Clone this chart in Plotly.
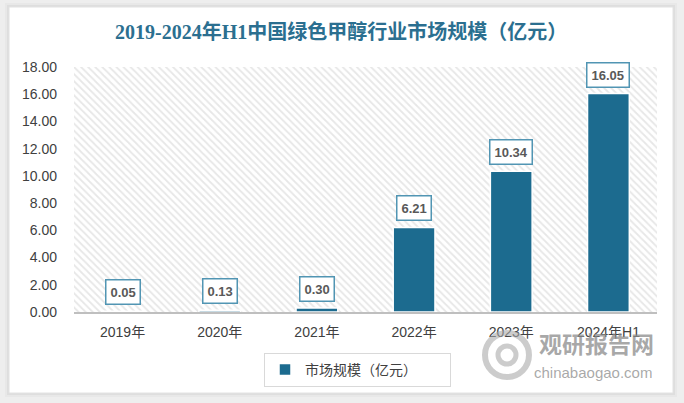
import plotly.graph_objects as go

categories = ["2019年", "2020年", "2021年", "2022年", "2023年", "2024年H1"]
values = [0.05, 0.13, 0.30, 6.21, 10.34, 16.05]
y_ticks = [0, 2, 4, 6, 8, 10, 12, 14, 16, 18]
series_name = "市场规模（亿元）"
title_text = "2019-2024年H1中国绿色甲醇行业市场规模（亿元）"

W, H = 684, 403
L, R, T, B = 74, 27, 67, 91
pw, ph = W - L - R, H - T - B

def px_to_paper(x, y):
    return (x - L) / pw, (H - B - y) / ph

BAR = "#1c6b8f"
SANS = "Liberation Sans, Noto Sans CJK SC, sans-serif"

fig = go.Figure()

# hatched plot background (on hidden numeric axis x)
fig.add_trace(go.Bar(
    x=[0.5], y=[max(y_ticks)], width=[1], xaxis="x", yaxis="y",
    marker=dict(color="white", line=dict(width=0),
                pattern=dict(shape="\\", fgcolor="#cfcfcf", bgcolor="white",
                             size=5, solidity=0.35)),
    hoverinfo="skip", showlegend=False,
))

# data bars (on category axis x2 overlaying x)
fig.add_trace(go.Bar(
    x=categories, y=values, xaxis="x2", yaxis="y", name=series_name,
    marker=dict(color=BAR, line=dict(color="white", width=1.5)),
    width=0.43,
))

annotations = []
for c, v in zip(categories, values):
    annotations.append(dict(
        x=c, y=v, xref="x2", yref="y", yanchor="bottom", yshift=6,
        text=f"<b>{v:.2f}</b>", showarrow=False,
        font=dict(family="Liberation Sans, sans-serif", size=13, color="#595959"),
        bgcolor="white", bordercolor="#5195b3", borderwidth=1.5, borderpad=4,
    ))

# title
tx, ty = px_to_paper(341, 31)
annotations.append(dict(
    x=tx, y=ty, xref="paper", yref="paper", showarrow=False,
    text=f"<b>{title_text}</b>", xanchor="center", yanchor="middle",
    font=dict(family="Liberation Serif, Noto Sans CJK SC, serif", size=20, color="#2b6f90"),
))
# watermark
x0, y0 = px_to_paper(596, 343)
annotations.append(dict(
    x=x0, y=y0, xref="paper", yref="paper", showarrow=False,
    text="<b>观研报告网</b>", xanchor="center", yanchor="middle",
    font=dict(family="Noto Sans CJK SC", size=23, color="rgba(140,140,140,0.75)"),
))
x0, y0 = px_to_paper(593, 373)
annotations.append(dict(
    x=x0, y=y0, xref="paper", yref="paper", showarrow=False,
    text="chinabaogao.com", xanchor="center", yanchor="middle",
    font=dict(family="Liberation Sans, sans-serif", size=15, color="rgba(140,140,140,0.75)"),
))

# card & shadow
shapes = []
for pad, col in [(4, "rgba(0,0,0,0.025)"), (2, "rgba(0,0,0,0.04)")]:
    ax0, ay0 = px_to_paper(9 - pad, 393 + pad)
    ax1, ay1 = px_to_paper(673 + pad, 7 - pad)
    shapes.append(dict(type="rect", xref="paper", yref="paper", x0=ax0, y0=ay0,
                       x1=ax1, y1=ay1, fillcolor=col, line=dict(width=0), layer="below"))
ax0, ay0 = px_to_paper(9, 393)
ax1, ay1 = px_to_paper(673, 7)
shapes.append(dict(type="rect", xref="paper", yref="paper", x0=ax0, y0=ay0,
                   x1=ax1, y1=ay1, fillcolor="white", line=dict(color="#e2e2e2", width=1),
                   layer="below"))

# watermark logo (simple swirl rings)
cx, cy = 507, 355
lx0, ly0 = px_to_paper(cx - 22, cy + 22)
lx1, ly1 = px_to_paper(cx + 22, cy - 22)
shapes.append(dict(type="circle", xref="paper", yref="paper", x0=lx0, y0=ly0, x1=lx1, y1=ly1,
                   line=dict(color="rgba(170,170,170,0.6)", width=6), layer="above"))
lx0, ly0 = px_to_paper(cx - 9, cy + 9)
lx1, ly1 = px_to_paper(cx + 9, cy - 9)
shapes.append(dict(type="circle", xref="paper", yref="paper", x0=lx0, y0=ly0, x1=lx1, y1=ly1,
                   line=dict(color="rgba(170,170,170,0.6)", width=5), layer="above"))

lgx, lgy = px_to_paper(264, 353)

fig.update_layout(
    width=W, height=H,
    margin=dict(l=L, r=R, t=T, b=B),
    paper_bgcolor="#eeeeee", plot_bgcolor="white",
    barmode="overlay",
    xaxis=dict(range=[0, 1], visible=False, fixedrange=True),
    xaxis2=dict(overlaying="x", anchor="y", side="bottom", type="category",
                showline=True, linecolor="#bfbfbf", linewidth=2, ticks="",
                showgrid=False, ticklabelstandoff=6,
                tickfont=dict(family=SANS, size=14, color="#404040")),
    yaxis=dict(range=[0, 18], tickvals=y_ticks, tickformat=".2f", showgrid=False,
               zeroline=False, showline=False, ticks="", ticklabelstandoff=16,
               tickfont=dict(family=SANS, size=14, color="#404040")),
    showlegend=True,
    legend=dict(orientation="h", x=lgx, y=lgy, xanchor="left", yanchor="top",
                bordercolor="#d9d9d9", borderwidth=1, bgcolor="white",
                entrywidth=140,
                font=dict(family="Noto Sans CJK SC", size=14, color="#404040")),
    annotations=annotations,
    shapes=shapes,
)

fig.write_html("out.html", config={"displayModeBar": False},
               post_script="document.body.style.margin='0';document.body.style.padding='0';")
